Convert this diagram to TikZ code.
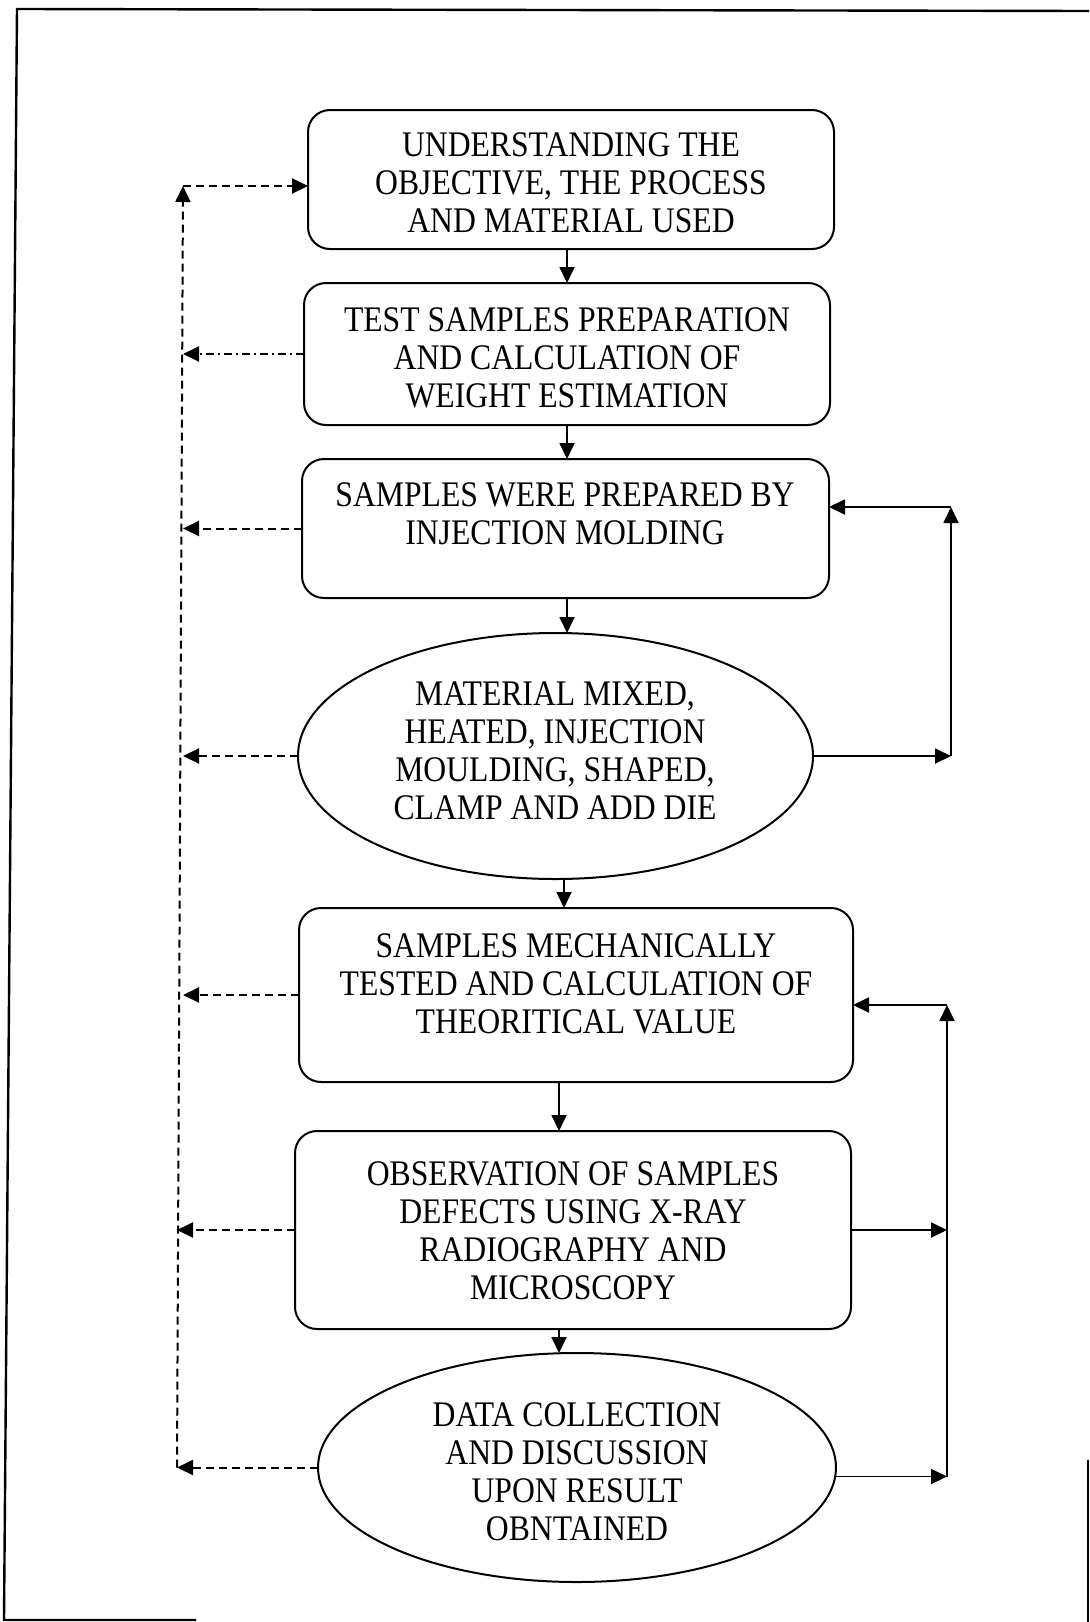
\documentclass[tikz,border=0pt]{standalone}
\usepackage{fontspec}
\setmainfont{Liberation Serif}
\newfontfamily\tallserif[FakeStretch=0.88]{Liberation Serif}
\usetikzlibrary{arrows.meta,shapes.geometric}
\begin{document}
\begin{tikzpicture}[x=0.5pt,y=-0.5pt,
  every node/.style={inner sep=0pt, outer sep=0pt},
  rbox/.style={draw, line width=1pt, rounded corners=11pt},
  ebox/.style={draw, ellipse, line width=1pt},
  txt/.style={align=center, font=\tallserif\fontsize{18}{19}\selectfont},
  tip/.style={-{Triangle[length=8pt,width=7.5pt]}},
  conn/.style={line width=0.9pt},
  dsh/.style={line width=1pt, dash pattern=on 4pt off 2.5pt},
  dshdot/.style={line width=1pt, dash pattern=on 4pt off 2pt on 1pt off 2pt},
  frame/.style={line width=1.2pt}]
\useasboundingbox (0,0) rectangle (1089,1622);
% frame
\draw[frame] (1089,11) -- (17,9) -- (4,1620) -- (196,1620);
\draw[frame] (1088,1460) -- (1088,1622);
% shapes
\node[rbox, minimum width=263pt, minimum height=69.5pt] (b1) at (571,179.5) {};
\node[rbox, minimum width=263pt, minimum height=71pt] (b2) at (567,354) {};
\node[rbox, minimum width=263.5pt, minimum height=69.5pt] (b3) at (565.5,528.5) {};
\node[ebox, minimum width=257.5pt, minimum height=123pt] (e1) at (555.5,756) {};
\node[rbox, minimum width=277pt, minimum height=87pt] (b4) at (576,995) {};
\node[rbox, minimum width=278pt, minimum height=99pt] (b5) at (573,1230) {};
\node[ebox, minimum width=259pt, minimum height=114.5pt] (e2) at (577,1467.5) {};
% texts
\node[txt] (t1) at (571,183) {UNDERSTANDING THE\\OBJECTIVE, THE PROCESS\\AND MATERIAL USED};
\node[txt] (t2) at (567,358) {TEST SAMPLES PREPARATION\\AND CALCULATION OF\\WEIGHT ESTIMATION};
\node[txt] (t3) at (565,514) {SAMPLES WERE PREPARED BY\\INJECTION MOLDING};
\node[txt] (te1) at (555,751) {MATERIAL MIXED,\\HEATED, INJECTION\\MOULDING, SHAPED,\\CLAMP AND ADD DIE};
\node[txt] (t4) at (576,984) {SAMPLES MECHANICALLY\\TESTED AND CALCULATION OF\\THEORITICAL VALUE};
\node[txt] (t5) at (573,1231) {OBSERVATION OF SAMPLES\\DEFECTS USING X-RAY\\RADIOGRAPHY AND\\MICROSCOPY};
\node[txt] (te2) at (577,1472) {DATA COLLECTION\\AND DISCUSSION\\UPON RESULT\\OBNTAINED};
% down arrows
\coordinate (ax1) at (567,0);
\coordinate (ax2) at (564,0);
\coordinate (ax3) at (559,0);
\draw[conn,tip] (b1.south -| ax1) -- (b2.north -| ax1);
\draw[conn,tip] (b2.south -| ax1) -- (b3.north -| ax1);
\draw[conn,tip] (b3.south -| ax1) -- (e1.north -| ax1);
\draw[conn,tip] (e1.south -| ax2) -- (b4.north -| ax2);
\draw[conn,tip] (b4.south -| ax3) -- (b5.north -| ax3);
\draw[conn,tip] (b5.south -| ax3) -- (e2.north -| ax3);
% left feedback
\coordinate (ltop) at (183,186);
\coordinate (lx) at (177,0);
\coordinate (lbot) at (e2.west -| lx);
\draw[dsh,tip] (ltop) -- (ltop -| b1.west);
\draw[dshdot,tip] (b2.west) -- (b2.west -| ltop);
\draw[dsh,tip] (b3.west) -- (b3.west -| ltop);
\draw[dsh,tip] (e1.west) -- (e1.west -| ltop);
\draw[dsh,tip] (b4.west) -- (b4.west -| ltop);
\draw[dsh,tip] (b5.west) -- (b5.west -| lx);
\draw[dsh,tip] (e2.west) -- (lbot);
\draw[dsh,tip] (lbot) -- (ltop);
% right feedback 1
\coordinate (r1t) at (951,507);
\draw[conn,tip] (e1.east) -- (e1.east -| r1t);
\draw[conn,tip] (e1.east -| r1t) -- (r1t);
\draw[conn,tip] (r1t) -- (r1t -| b3.east);
% right feedback 2
\coordinate (r2t) at (947,1005);
\draw[conn,tip] (e2.-2.5) -- (e2.-2.5 -| r2t);
\draw[conn,tip] (b5.east) -- (b5.east -| r2t);
\draw[conn,tip] (e2.-2.5 -| r2t) -- (r2t);
\draw[conn,tip] (r2t) -- (r2t -| b4.east);
\end{tikzpicture}
\end{document}
